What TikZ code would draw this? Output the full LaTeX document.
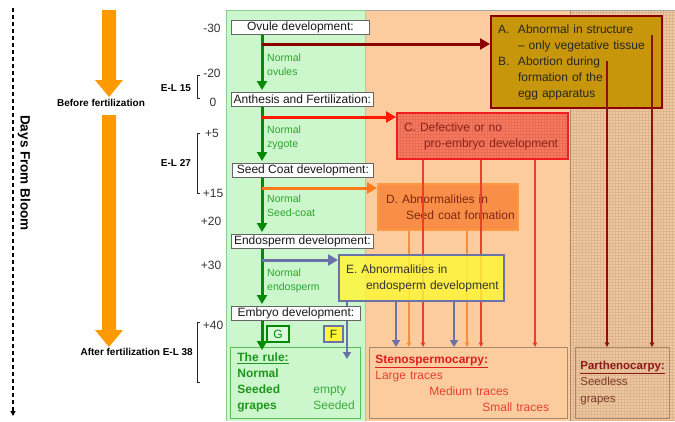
\documentclass[tikz,border=0pt]{standalone}
\usepackage{fontspec}
\setmainfont{Liberation Sans}
\usetikzlibrary{arrows.meta,calc}
\definecolor{greenpanel}{HTML}{CCF7CC}
\definecolor{greenedge}{HTML}{8FCB8F}
\definecolor{orangepanel}{HTML}{FCCB9E}
\definecolor{rightpanel}{HTML}{EEC8A0}
\definecolor{rightgrid}{HTML}{DDB48C}
\definecolor{bigorange}{HTML}{FF9900}
\definecolor{garrow}{HTML}{008A00}
\definecolor{gtext}{HTML}{2EA32E}
\definecolor{rulegreen}{HTML}{1E961E}
\definecolor{rulelight}{HTML}{3DAA3D}
\definecolor{ruleedge}{HTML}{5DBB5D}
\definecolor{drk}{HTML}{8B0000}
\definecolor{abox}{HTML}{C8960A}
\definecolor{redarr}{HTML}{FF1A00}
\definecolor{cfill}{HTML}{F47A62}
\definecolor{cgrid}{HTML}{EA6A52}
\definecolor{cborder}{HTML}{F01E1E}
\definecolor{ctext}{HTML}{8A2418}
\definecolor{orarr}{HTML}{FF7A1A}
\definecolor{dfill}{HTML}{F98E48}
\definecolor{dgrid}{HTML}{EF823C}
\definecolor{dborder}{HTML}{FF9A40}
\definecolor{dtext}{HTML}{7E2812}
\definecolor{slate}{HTML}{6A72A8}
\definecolor{efill}{HTML}{FFF53A}
\definecolor{stenotitle}{HTML}{DC1E1E}
\definecolor{stenotext}{HTML}{E8402E}
\definecolor{stenoedge}{HTML}{A8886A}
\definecolor{parthtitle}{HTML}{8B1A1A}
\definecolor{parthtext}{HTML}{7E3A2A}
\definecolor{cline}{HTML}{E8402A}
\definecolor{dline}{HTML}{F39040}
\definecolor{aline}{HTML}{8B1010}
\begin{document}
\begin{tikzpicture}[x=1pt,y=-1pt,
  gridfill/.style={path picture={\draw[#1, line width=0.35pt, step=3pt] (path picture bounding box.south west) grid (path picture bounding box.north east);}},
  wbox/.style={draw=black!60, fill=white, line width=0.8pt, anchor=north west, inner sep=0pt, minimum height=14pt, font=\fontsize{12}{14}\selectfont, text=black!90},
  gtxt/.style={anchor=west, align=left, inner sep=0pt, font=\fontsize{10.5}{14}\selectfont, text=gtext},
  garr/.style={draw=garrow, fill=garrow, line width=3pt, -{Triangle[length=9pt,width=10pt]}},
  harr/.style={line width=3pt, -{Triangle[length=10pt,width=11pt]}},
  tline/.style={line width=1.3pt, -{Triangle[length=4.5pt,width=4.5pt]}},
  earr/.style={draw=slate, line width=2.5pt, -{Triangle[length=7pt,width=8pt]}},
  tbox/.style={anchor=north west, inner xsep=0pt, inner ysep=0pt, align=left, font=\fontsize{12}{16}\selectfont},
  num/.style={font=\fontsize{12}{14}\selectfont, text=black!80, inner sep=0pt},
  lbl/.style={font=\bfseries\fontsize{10}{12}\selectfont, inner sep=0pt},
  brk/.style={line width=0.9pt, draw=black!85},
  bigarrow/.style={fill=bigorange},
  letterbox/.style={line width=2pt, minimum height=16pt, inner sep=0pt, font=\fontsize{12}{14}\selectfont}
]
\useasboundingbox (0,0) rectangle (675,421);
% background panels
\fill[greenpanel] (226,10) rectangle (365,421);
\fill[orangepanel] (365,10) rectangle (570,421);
\path[fill=rightpanel, gridfill=rightgrid] (570,10) rectangle (675,421);
\draw[greenedge, line width=0.8pt] (226,421) -- (226,10) -- (365,10);
\draw[black!35, line width=0.8pt] (365,10) -- (675,10);
\draw[greenedge!70!orangepanel, line width=0.6pt] (365,10) -- (365,421);
\draw[stenoedge, line width=0.8pt] (570,10) -- (570,421);

% left time axis
\coordinate (dtop) at (13,8);
\coordinate (dbot) at (13,416);
\draw[line width=1.1pt, dash pattern=on 4pt off 3pt, -{Triangle[length=5pt,width=5pt]}] (dtop) -- (dbot);
\node[rotate=-90, font=\bfseries\fontsize{13.5}{15}\selectfont, inner sep=0pt] (days) at (24,173) {Days From Bloom};

\fill[bigarrow] (102,10) -- (116,10) -- (116,80) -- (123,80) -- (109,97) -- (95,80) -- (102,80) -- cycle;
\fill[bigarrow] (102,115) -- (116,115) -- (116,330) -- (123,330) -- (109,347) -- (95,330) -- (102,330) -- cycle;
\node[lbl] (before) at (101,103) {Before fertilization};
\node[lbl, anchor=east] (after) at (193,352) {After fertilization E-L 38};
\node[lbl] (el15) at (176,88) {E-L 15};
\node[lbl] (el27) at (176,163) {E-L 27};

\node[num] (n1) at (212,28) {-30};
\node[num] (n2) at (212,73) {-20};
\node[num] (n3) at (213,102) {0};
\node[num] (n4) at (212,133) {+5};
\node[num] (n5) at (213,193) {+15};
\node[num] (n6) at (211,221) {+20};
\node[num] (n7) at (211,265) {+30};
\node[num] (n8) at (213,325) {+40};

\draw[brk] (200,75) -- (197,75) -- (197,98) -- (200,98);
\draw[brk] (200,133) -- (197,133) -- (197,193) -- (200,193);
\draw[brk] (200,322) -- (197,322) -- (197,382) -- (200,382);

% outcome boxes
\node[tbox, draw=stenoedge, line width=0.8pt, text width=198pt, minimum height=71pt, text=stenotext] (steno) at (369,347)
 {\hspace*{6pt}{\color{stenotitle}\underline{\textbf{Stenospermocarpy:}}}\\
  \hspace*{6pt}Large traces\\
  \hspace*{60pt}Medium traces\\
  \hspace*{113pt}Small traces};
\node[tbox, draw=stenoedge, line width=0.8pt, text width=94pt, minimum height=71pt, text=parthtext, font=\fontsize{11.5}{16.5}\selectfont] (parth) at (575,347)
 {\hspace*{5pt}{\color{parthtitle}\underline{\textbf{Parthenocarpy:}}}\\
  \hspace*{5pt}Seedless\\
  \hspace*{5pt}grapes};
\node[tbox, draw=ruleedge, line width=0.8pt, fill=greenpanel, text width=130pt, minimum height=71pt, text=rulegreen] (rule) at (230,347)
 {\hspace*{7pt}\underline{\textbf{The rule:}}\\
  \hspace*{7pt}\textbf{Normal}\\
  \hspace*{7pt}\makebox[76pt][l]{\textbf{Seeded}}{\color{rulelight}empty}\\
  \hspace*{7pt}\makebox[76pt][l]{\textbf{grapes}}{\color{rulelight}Seeded}};

% abnormality boxes
\node[tbox, draw=drk, line width=2pt, fill=abox, text width=171pt, minimum height=92pt, text=black!85] (A) at (490,15)
 {\hspace*{7pt}\makebox[20pt][l]{A.}Abnormal in structure\\
  \hspace*{27pt}\textendash{} only vegetative tissue\\
  \hspace*{7pt}\makebox[20pt][l]{B.}Abortion during\\
  \hspace*{27pt}formation of the\\
  \hspace*{27pt}egg apparatus};
\node[tbox, draw=cborder, line width=2pt, fill=cfill, gridfill=cgrid, text width=171pt, minimum height=46pt, text=ctext] (C) at (396,112)
 {\hspace*{7pt}C. Defective or no\\
  \hspace*{27pt}pro-embryo development};
\node[tbox, draw=dborder, line width=2pt, fill=dfill, text width=140pt, minimum height=46pt, text=dtext] (D) at (377,183)
 {\hspace*{8pt}D. Abnormalities in\\
  \hspace*{28pt}Seed coat formation};

% lines from C and D to stenospermocarpy
\coordinate (c1) at ($(C.south west)+(27,0)$);
\coordinate (c2) at ($(C.south west)+(85,0)$);
\coordinate (c3) at ($(C.south west)+(139,0)$);
\coordinate (d1) at ($(D.south west)+(32,0)$);
\coordinate (d2) at ($(D.south west)+(90,0)$);
\draw[tline, draw=cline, fill=cline] (c1) -- (c1 |- steno.north);
\draw[tline, draw=cline, fill=cline] (c2) -- (c2 |- steno.north);
\draw[tline, draw=cline, fill=cline] (c3) -- (c3 |- steno.north);
\draw[tline, draw=dline, fill=dline, line width=1.1pt] (d1) -- (d1 |- steno.north);
\draw[tline, draw=dline, fill=dline, line width=1.1pt] (d2) -- (d2 |- steno.north);

\node[tbox, draw=slate, line width=2pt, fill=efill, fill opacity=0.85, text opacity=1, text width=165pt, minimum height=46pt, text=black!80] (E) at (338,254)
 {\hspace*{7pt}E. Abnormalities in\\
  \hspace*{27pt}endosperm development};
\coordinate (e0) at ($(E.south west)+(9,0)$);
\coordinate (e1) at ($(E.south west)+(58,0)$);
\coordinate (e2) at ($(E.south west)+(116,0)$);
\draw[earr] (e1) -- (e1 |- steno.north);
\draw[earr] (e2) -- (e2 |- steno.north);
\draw[earr, shorten >=-12pt] (e0) -- (e0 |- rule.north);

% lines from A/B to parthenocarpy
\coordinate (a1) at ($(A.north west)+(117,46)$);
\coordinate (a2) at ($(A.north west)+(162,20)$);
\draw[tline, draw=aline, fill=aline, line width=1.1pt] (a1) -- (a1 |- parth.north);
\draw[tline, draw=aline, fill=aline, line width=1.1pt] (a2) -- (a2 |- parth.north);

% development stages
\node[wbox, minimum width=138pt] (ovule) at (231,20) {Ovule development:};
\node[wbox, minimum width=142pt] (anth) at (231,92) {Anthesis and Fertilization:};
\node[wbox, minimum width=141pt] (seed) at (232,163) {Seed Coat development:};
\node[wbox, minimum width=142pt] (endo) at (231,234) {Endosperm development:};
\node[wbox, minimum width=129pt] (embryo) at (231,306) {Embryo development:};

\coordinate (gx) at (262,0);
\draw[garr, shorten >=2pt] (ovule.south -| gx) -- (anth.north -| gx);
\draw[garr, shorten >=2pt] (anth.south -| gx) -- (seed.north -| gx);
\draw[garr, shorten >=2pt] (seed.south -| gx) -- (endo.north -| gx);
\draw[garr, shorten >=2pt] (endo.south -| gx) -- (embryo.north -| gx);
\draw[garr, shorten >=-3pt] (embryo.south -| gx) -- (rule.north -| gx);

\node[gtxt] (t1) at (267,65) {Normal\\ovules};
\node[gtxt] (t2) at (267,137.5) {Normal\\zygote};
\node[gtxt] (t3) at (267,206) {Normal\\Seed-coat};
\node[gtxt] (t4) at (267,280.5) {Normal\\endosperm};

\node[letterbox, draw=garrow, fill=greenpanel!70!white, text=garrow, minimum width=22pt] (G) at (278,334) {G};
\node[letterbox, draw=slate, fill=efill, text=black!80, minimum width=19pt] (F) at (333.5,334) {F};

% side branches
\coordinate (h1) at (262,44);
\coordinate (h2) at (262,117);
\coordinate (h3) at (262,188);
\coordinate (h4) at (262,260);
\draw[harr, draw=drk, fill=drk] (h1) -- (h1 -| A.west);
\draw[harr, draw=redarr, fill=redarr] (h2) -- (h2 -| C.west);
\draw[harr, draw=orarr, fill=orarr] (h3) -- (h3 -| D.west);
\draw[harr, draw=slate, fill=slate] (h4) -- (h4 -| E.west);
\end{tikzpicture}
\end{document}
